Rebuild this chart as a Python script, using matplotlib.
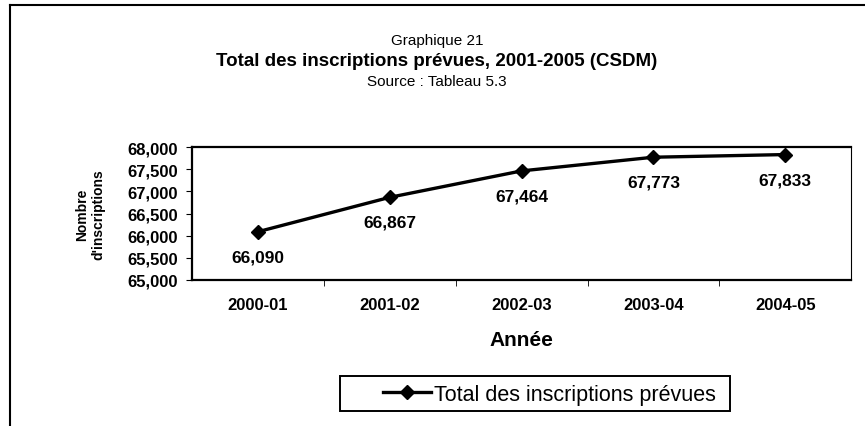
import matplotlib.pyplot as plt
from matplotlib.lines import Line2D
from matplotlib.patches import Rectangle

plt.rcParams['font.family'] = ['Liberation Sans', 'DejaVu Sans']

# données
annees = ["2000-01", "2001-02", "2002-03", "2003-04", "2004-05"]
inscriptions = [66090, 66867, 67464, 67773, 67833]
y_ticks = [65000, 65500, 66000, 66500, 67000, 67500, 68000]

fig = plt.figure(figsize=(8.65, 4.27), dpi=100)
ax = fig.add_axes([0.222, 0.342, 0.762, 0.311])

x = list(range(len(annees)))
ax.plot(x, inscriptions, color="black", linewidth=2.4, marker="D",
        markersize=7, label="Total des inscriptions prévues")

for xi, v in zip(x, inscriptions):
    ax.annotate(f"{v:,}", (xi, v), xytext=(0, -18), textcoords="offset points",
                ha="center", va="center", fontsize=12.5, fontweight="bold")

ax.set_xlim(-0.5, len(annees) - 0.5)
ax.set_ylim(65000, 68000)
ax.set_yticks(y_ticks)
ax.set_yticklabels([f"{t:,}" for t in y_ticks], fontsize=12, fontweight="bold")
ax.set_xticks(x)
ax.set_xticklabels(annees, fontsize=12, fontweight="bold")
ax.tick_params(axis="x", length=0, pad=12)
ax.set_xticks([i + 0.5 for i in x[:-1]], minor=True)
ax.tick_params(axis="x", which="minor", length=4, direction="out")
ax.tick_params(axis="y", length=4, direction="out", pad=6)

ax.spines["left"].set_linewidth(1.6)
ax.spines["bottom"].set_linewidth(1.6)
ax.spines["top"].set_linewidth(1.6)
ax.spines["right"].set_linewidth(0.8)

ax.set_xlabel("Année", fontsize=15, fontweight="bold", labelpad=13)
ax.set_ylabel("Nombre\nd'inscriptions", fontsize=10, fontweight="bold", labelpad=16)

fig.text(0.505, 0.903, "Graphique 21", ha="center", va="center", fontsize=11)
fig.text(0.505, 0.856, "Total des inscriptions prévues, 2001-2005 (CSDM)",
         ha="center", va="center", fontsize=13.5, fontweight="bold")
fig.text(0.505, 0.808, "Source : Tableau 5.3", ha="center", va="center", fontsize=11)

# légende sans cadre + boîte tracée à part (marge gauche plus large)
leg = fig.legend(loc="center left", bbox_to_anchor=(0.443, 0.074), fontsize=15.5,
                 frameon=False, borderpad=0, handlelength=2.2, handletextpad=0.15,
                 borderaxespad=0)
fig.add_artist(Rectangle((0.393, 0.035), 0.451, 0.082, transform=fig.transFigure,
                         fill=False, edgecolor="black", linewidth=1.4))

# cadre extérieur (haut et gauche visibles)
fig.add_artist(Line2D([0.0116, 0.0116], [0.0, 0.986], color="black", linewidth=1.5,
                      transform=fig.transFigure))
fig.add_artist(Line2D([0.0116, 1.0], [0.986, 0.986], color="black", linewidth=1.5,
                      transform=fig.transFigure))

fig.savefig("out.png", dpi=100)
